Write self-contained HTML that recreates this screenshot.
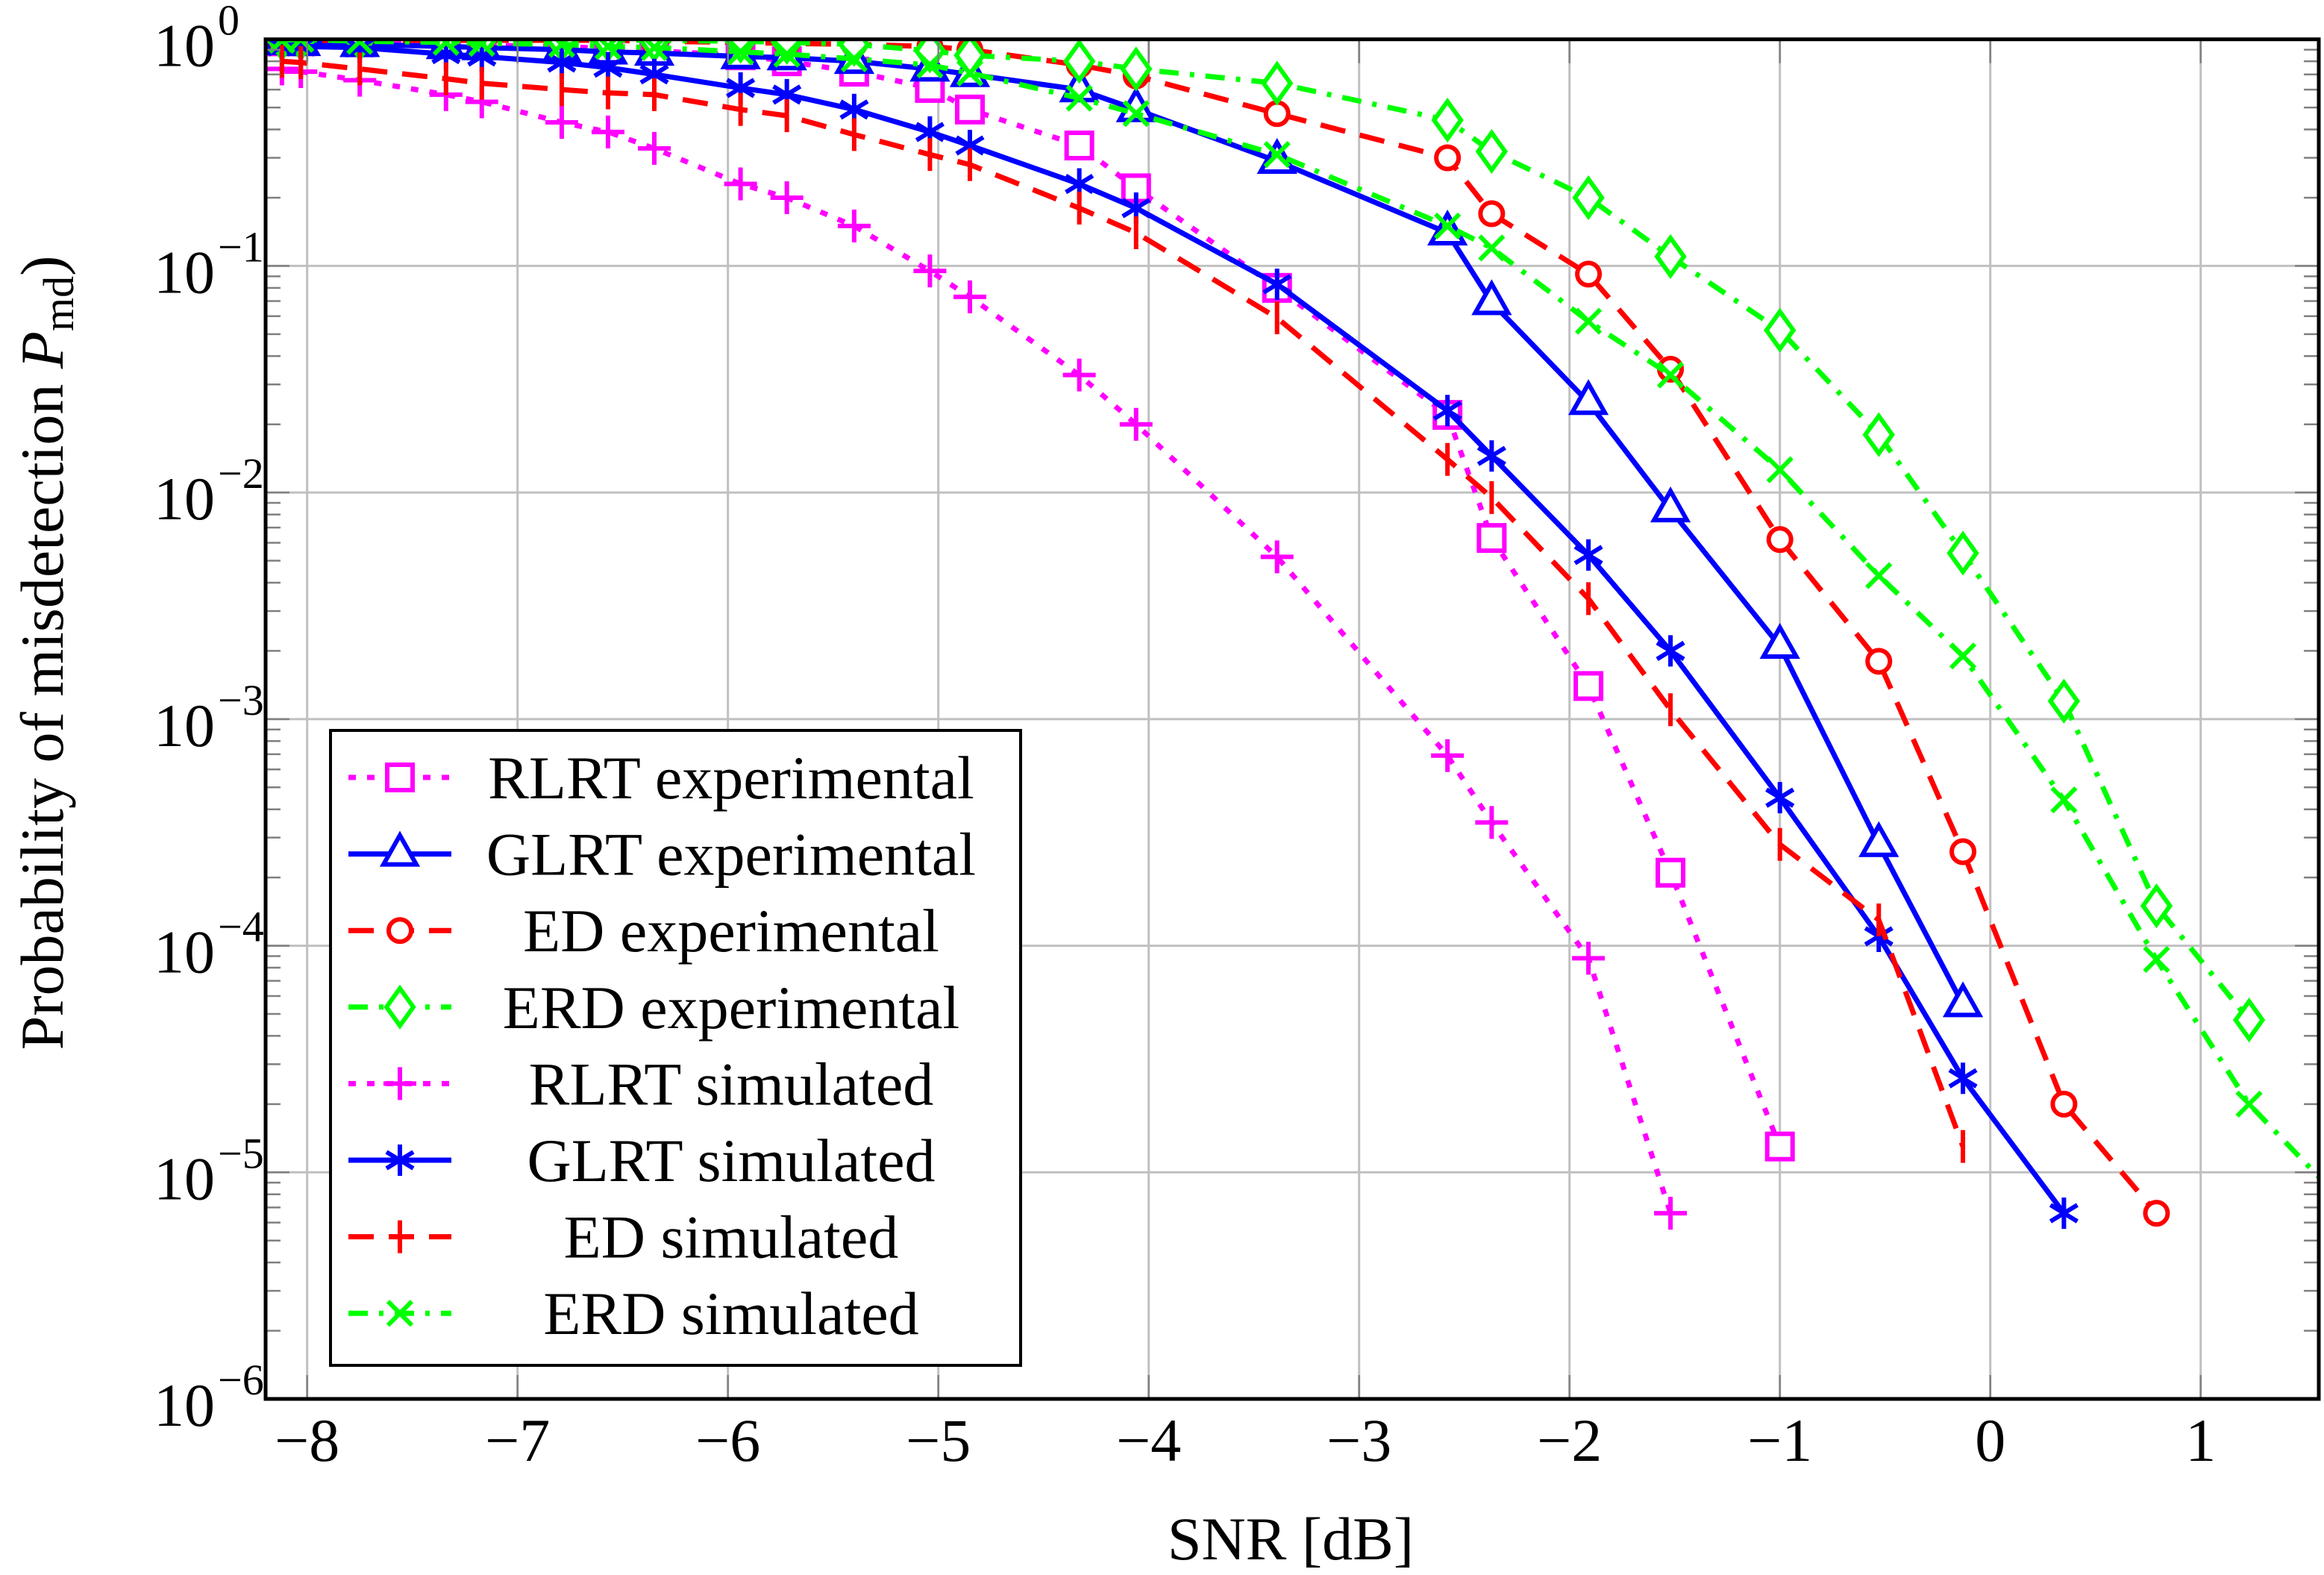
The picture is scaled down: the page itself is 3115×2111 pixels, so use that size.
<!DOCTYPE html>
<html><head><meta charset="utf-8"><style>
html,body{margin:0;padding:0;background:#fff;}
svg{display:block;font-family:"Liberation Serif",serif;}
</style></head><body>
<svg id="chart" width="3115" height="2111" viewBox="0 0 3115 2111">
<defs><clipPath id="pc"><rect x="356" y="52" width="2752" height="1823"/></clipPath></defs>
<g id="grid"></g>
<g id="series" clip-path="url(#pc)"></g>
<g id="axes"></g>
<g id="legend"></g>
</svg>
<script>
const snrX = [-8.12,-8.03,-7.75,-7.34,-7.17,-6.79,-6.57,-6.35,-5.94,-5.72,-5.40,-5.04,-4.85,-4.33,-4.06,-3.39,-2.58,-2.37,-1.91,-1.52,-1.0,-0.53,-0.13,0.35,0.79,1.23,1.7];
const rlrtExp = [0.98,0.98,0.97,0.95,0.94,0.93,0.91,0.89,0.85,0.8,0.72,0.61,0.49,0.34,0.22,0.08,0.022,0.0063,0.0014,2.1e-4,1.3e-5];
const glrtExp = [0.97,0.96,0.95,0.93,0.92,0.90,0.88,0.87,0.84,0.83,0.80,0.74,0.70,0.60,0.49,0.29,0.14,0.069,0.025,0.0084,0.0021,2.8e-4,5.5e-5];
const edExp = [0.99,0.99,0.99,0.99,0.99,0.99,0.99,0.98,0.97,0.96,0.95,0.93,0.90,0.77,0.69,0.47,0.30,0.17,0.092,0.035,0.0062,0.0018,2.6e-4,2.0e-5,6.6e-6];
const erdExp = [1.0,1.0,1.0,1.0,1.0,0.99,0.99,0.99,0.98,0.97,0.95,0.89,0.85,0.80,0.74,0.64,0.44,0.32,0.20,0.11,0.052,0.018,0.0054,0.0012,1.5e-4,4.7e-5];
const rlrtSim = [0.74,0.72,0.66,0.57,0.53,0.43,0.39,0.33,0.23,0.20,0.15,0.095,0.073,0.033,0.020,0.0052,6.9e-4,3.5e-4,8.8e-5,6.6e-6];
const glrtSim = [0.93,0.93,0.92,0.86,0.84,0.79,0.75,0.70,0.61,0.57,0.49,0.39,0.34,0.23,0.18,0.083,0.023,0.0145,0.0053,0.002,4.5e-4,1.1e-4,2.6e-5,6.6e-6];
const edSim = [0.8,0.79,0.74,0.67,0.64,0.60,0.58,0.57,0.49,0.46,0.38,0.31,0.28,0.18,0.14,0.059,0.014,0.0095,0.0034,0.0011,2.8e-4,1.3e-4,1.3e-5];
const erdSim = [0.99,1.0,0.98,0.97,0.96,0.95,0.93,0.92,0.88,0.86,0.82,0.77,0.71,0.55,0.47,0.31,0.15,0.12,0.057,0.033,0.0126,0.0043,0.0019,4.4e-4,8.7e-5,2.0e-5,7e-6];
const xTicks = [-8,-7,-6,-5,-4,-3,-2,-1,0,1];
const xTickLabels = ["\u22128","\u22127","\u22126","\u22125","\u22124","\u22123","\u22122","\u22121","0","1"];
const yDecades = [0,-1,-2,-3,-4,-5,-6];
const yDecadeLabels = ["0","\u22121","\u22122","\u22123","\u22124","\u22125","\u22126"];
const legendLabels = ["RLRT experimental","GLRT experimental","ED experimental","ERD experimental","RLRT simulated","GLRT simulated","ED simulated","ERD simulated"];

const NS="http://www.w3.org/2000/svg";
const L=356,R=3108,T=52.7,B=1875;
const xs=v=>411.7+(v+8)*282;
const ys=p=>T+(-Math.log10(p))*(B-T)/6;
function el(tag,attrs,parent){const e=document.createElementNS(NS,tag);for(const k in attrs)e.setAttribute(k,attrs[k]);parent.appendChild(e);return e;}
const grid=document.getElementById('grid'),axes=document.getElementById('axes'),ser=document.getElementById('series'),leg=document.getElementById('legend');

xTicks.forEach((v,i)=>{
  const g=el('line',{x1:xs(v),x2:xs(v),y1:T,y2:B,stroke:'#c0c0c0','stroke-width':3},grid);
  
  
  el('line',{x1:xs(v),x2:xs(v),y1:B-32,y2:B,stroke:'#808080','stroke-width':2.5},axes);
  el('line',{x1:xs(v),x2:xs(v),y1:T,y2:T+32,stroke:'#808080','stroke-width':2.5},axes);
  const t=el('text',{x:xs(v),y:1958,'font-size':82,'text-anchor':'middle'},axes);
  t.textContent=xTickLabels[i];
  
  
});
yDecades.forEach((d,i)=>{
  const y=ys(Math.pow(10,d));
  const g=el('line',{x1:L,x2:R,y1:y,y2:y,stroke:'#c0c0c0','stroke-width':3},grid);
  
  
  el('line',{x1:L,x2:L+32,y1:y,y2:y,stroke:'#808080','stroke-width':2.5},axes);
  el('line',{x1:R-32,x2:R,y1:y,y2:y,stroke:'#808080','stroke-width':2.5},axes);
  if(d>-6){for(let m=2;m<=9;m++){const yy=ys(m*Math.pow(10,d-1));
    el('line',{x1:L,x2:L+20,y1:yy,y2:yy,stroke:'#808080','stroke-width':2.5},axes);
    el('line',{x1:R-20,x2:R,y1:yy,y2:yy,stroke:'#808080','stroke-width':2.5},axes);}}
  const t=el('text',{x:288,y:y+36,'font-size':82,'text-anchor':'end'},axes);
  t.textContent='10';
  
  
  const s=el('text',{x:292,y:y-6,'font-size':58,'text-anchor':'start'},axes);
  s.textContent=yDecadeLabels[i];
});
const fr=el('rect',{x:L,y:T,width:R-L,height:B-T,fill:'none',stroke:'#000','stroke-width':5},axes);


const xl=el('text',{x:1730,y:2090,'font-size':82,'text-anchor':'middle'},axes);
xl.textContent='SNR [dB]';


const yl=el('text',{x:0,y:0,'font-size':82,'text-anchor':'middle',transform:'translate(84,875) rotate(-90)'},axes);
yl.innerHTML='Probability of misdetection <tspan font-style="italic">P</tspan><tspan font-size="58" dy="14">md</tspan><tspan dy="-14">)</tspan>';



const DOT='10 15',DASH='34 20',DD='26 15 6 15';
function marker(type,x,y,c,parent){
  const sw=6,a={stroke:c,'stroke-width':sw,fill:'none'};
  if(type==='square')el('rect',{x:x-17,y:y-17,width:34,height:34,fill:'#fff',stroke:c,'stroke-width':sw},parent);
  else if(type==='tri')el('polygon',{points:`${x},${y-25} ${x-22},${y+14} ${x+22},${y+14}`,fill:'#fff',stroke:c,'stroke-width':sw},parent);
  else if(type==='circle')el('circle',{cx:x,cy:y,r:15,fill:'#fff',stroke:c,'stroke-width':sw},parent);
  else if(type==='diamond')el('polygon',{points:`${x},${y-25} ${x+18},${y} ${x},${y+25} ${x-18},${y}`,fill:'#fff',stroke:c,'stroke-width':sw},parent);
  else if(type==='plus')el('path',Object.assign({d:`M${x-22},${y}H${x+22}M${x},${y-22}V${y+22}`},a),parent);
  else if(type==='star')el('path',Object.assign({d:`M${x},${y-21}V${y+21}M${x-18},${y-11}L${x+18},${y+11}M${x-18},${y+11}L${x+18},${y-11}`},a),parent);
  else if(type==='bar')el('path',Object.assign({d:`M${x},${y-22}V${y+22}`},a),parent);
  else if(type==='x')el('path',Object.assign({d:`M${x-16},${y-16}L${x+16},${y+16}M${x-16},${y+16}L${x+16},${y-16}`},a),parent);
}
const seriesDefs=[
  {vals:rlrtExp,c:'#ff00ff',dash:DOT,m:'square',name:'rlrt-experimental'},
  {vals:glrtExp,c:'#0000ff',dash:'',m:'tri',name:'glrt-experimental'},
  {vals:edExp,c:'#ff0000',dash:DASH,m:'circle',name:'ed-experimental'},
  {vals:erdExp,c:'#00ff00',dash:DD,m:'diamond',name:'erd-experimental'},
  {vals:rlrtSim,c:'#ff00ff',dash:DOT,m:'plus',name:'rlrt-simulated'},
  {vals:glrtSim,c:'#0000ff',dash:'',m:'star',name:'glrt-simulated'},
  {vals:edSim,c:'#ff0000',dash:DASH,m:'bar',name:'ed-simulated'},
  {vals:erdSim,c:'#00ff00',dash:DD,m:'x',name:'erd-simulated'}
];
seriesDefs.forEach(s=>{
  const g=el('g',{},ser);
  
  
  const pts=s.vals.map((v,i)=>[xs(snrX[i]),ys(v)]);
  const p=el('polyline',{points:pts.map(q=>q.join(',')).join(' '),fill:'none',stroke:s.c,'stroke-width':7,'stroke-linejoin':'round'},g);
  if(s.dash)p.setAttribute('stroke-dasharray',s.dash);
  pts.forEach(q=>marker(s.m,q[0],q[1],s.c,g));
});
const lb=el('rect',{x:443,y:979,width:925,height:851,fill:'#fff',stroke:'#000','stroke-width':4},leg);


legendLabels.forEach((lab,i)=>{
  const y=1042+i*102.6,s=seriesDefs[i];
  const g=el('g',{},leg);
  
  
  const ln=el('line',{x1:467,x2:605,y1:y,y2:y,stroke:s.c,'stroke-width':7},g);
  if(s.dash)ln.setAttribute('stroke-dasharray',s.dash);
  marker(s.m,536,y,s.c,g);
  const t=el('text',{x:980,y:y+28,'font-size':82,'text-anchor':'middle'},g);
  t.textContent=lab;
});
</script>
</body></html>
